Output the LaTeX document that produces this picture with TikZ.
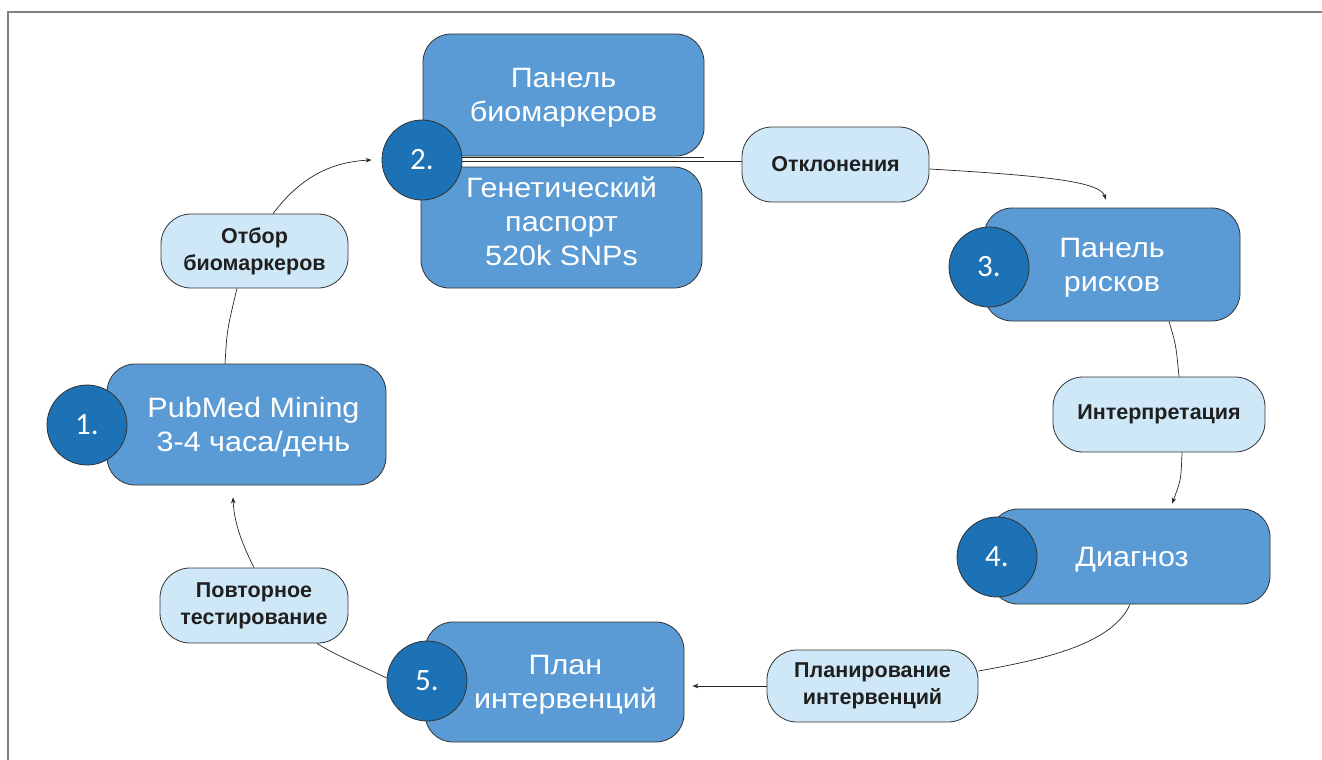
\documentclass[tikz,border=0pt]{standalone}
\usepackage{fontspec}
\setmainfont{Liberation Sans}
\newfontfamily\numfont{Carlito}
\newfontfamily\boxfont[FakeStretch=1.09]{Liberation Sans}
\usetikzlibrary{arrows.meta}
\definecolor{boxblue}{HTML}{5B9BD5}
\definecolor{circblue}{HTML}{1C72B4}
\definecolor{pillblue}{HTML}{CFE8F8}
\definecolor{edgegray}{HTML}{333333}
\definecolor{framegray}{HTML}{808080}
\newcommand{\shiftline}[1]{\hspace*{#1}}
\begin{document}
\begin{tikzpicture}[x=1pt,y=-1pt,
  stagebox/.style={draw=edgegray, line width=0.8pt, fill=boxblue, rounded corners=28pt,
    align=center, text=white, font=\boxfont\fontsize{28}{34}\selectfont, inner sep=0pt,
    text depth=0pt},
  numcircle/.style={circle, draw=edgegray, line width=0.8pt, fill=circblue, minimum size=80pt,
    inner sep=0pt, text=white, font=\numfont\fontsize{31}{31}\selectfont},
  pill/.style={draw=edgegray, line width=0.8pt, fill=pillblue, rounded corners=30pt,
    align=center, font=\bfseries\fontsize{21.5}{27}\selectfont, text=black!88, inner sep=0pt},
  link/.style={draw=black!85, line width=0.7pt},
  arrowlink/.style={link, -{Stealth[length=6pt,width=4.5pt]}}
]
\useasboundingbox (0,0) rectangle (1322,760);
\draw[framegray, line width=2pt] (8,760) -- (8,12.5) -- (1322,12.5);

% stage boxes
\node[stagebox, minimum width=279pt, minimum height=121pt, text depth=-4pt] (b1) at (246.5,424.5)
  {\shiftline{14pt}PubMed Mining\\\shiftline{14pt}3-4 часа/день};
\node[stagebox, minimum width=281pt, minimum height=122pt] (b2a) at (563.5,95) {Панель\\биомаркеров};
\node[stagebox, minimum width=281pt, minimum height=121pt, text depth=12pt] (b2b) at (561.5,227.5) {Генетический\\паспорт\\520k SNPs};
\node[stagebox, minimum width=256pt, minimum height=113pt] (b3) at (1112,264.5) {Панель\\рисков};
\node[stagebox, minimum width=280pt, minimum height=95pt, text depth=-6pt] (b4) at (1130,556.5) {\shiftline{4pt}Диагноз};
\node[stagebox, minimum width=259pt, minimum height=120pt] (b5) at (554.5,682)
  {\shiftline{22pt}План\\\shiftline{22pt}интервенций};

% number circles
\node[numcircle] (c1) at (87,425) {1.};
\node[numcircle] (c2) at (422,160) {2.};
\node[numcircle] (c3) at (989,267) {3.};
\node[numcircle] (c4) at (997,557) {4.};
\node[numcircle] (c5) at (427,681) {5.};

% transition pills
\node[pill, minimum width=187pt, minimum height=74pt] (p1) at (254.5,251) {Отбор\\биомаркеров};
\node[pill, minimum width=187pt, minimum height=75pt] (p2) at (835.5,164.5) {Отклонения};
\node[pill, minimum width=212pt, minimum height=75pt] (p3) at (1159,414.5) {Интерпретация};
\node[pill, minimum width=211pt, minimum height=72pt] (p4) at (872.5,686) {Планирование\\интервенций};
\node[pill, minimum width=188pt, minimum height=75pt] (p5) at (254,605.5) {Повторное\\тестирование};

% connectors
\draw[link] ([xshift=-21.5pt]b1.north) .. controls (227,330) .. ([xshift=-17.5pt]p1.south);
\draw[arrowlink] ([xshift=18.5pt]p1.north) .. controls (300,178) and (330,162) .. ([xshift=-10pt]c2.west);
\draw[link] ([yshift=3pt]c2.east) -- ([yshift=3pt]c2.east -| b2a.east);
\draw[link] ([yshift=-1.7pt]c2.east) -- ([yshift=-1.7pt]c2.east -| p2.west);
\draw[arrowlink] ([yshift=-4.5pt]p2.east) .. controls (1050,176) and (1100,182) .. ([xshift=-6pt,yshift=8pt]b3.north);
\draw[link] ([xshift=57pt]b3.south) .. controls (1176,345) .. ([xshift=20pt]p3.north);
\draw[arrowlink] ([xshift=23pt]p3.south) .. controls (1181,480) .. ([xshift=42pt,yshift=5pt]b4.north);
\draw[link] (b4.south) .. controls (1112,645) and (1040,660) .. ([yshift=15pt]p4.east);
\draw[arrowlink] (p4.west) -- ([xshift=8pt]p4.west -| b5.east);
\draw[link] ([yshift=3pt]c5.west) .. controls (360,665) and (335,655) .. ([xshift=63pt]p5.south);
\draw[arrowlink] (p5.north) .. controls (240,540) and (234,520) .. ([xshift=-13.5pt,yshift=-12pt]b1.south);
\end{tikzpicture}
\end{document}
